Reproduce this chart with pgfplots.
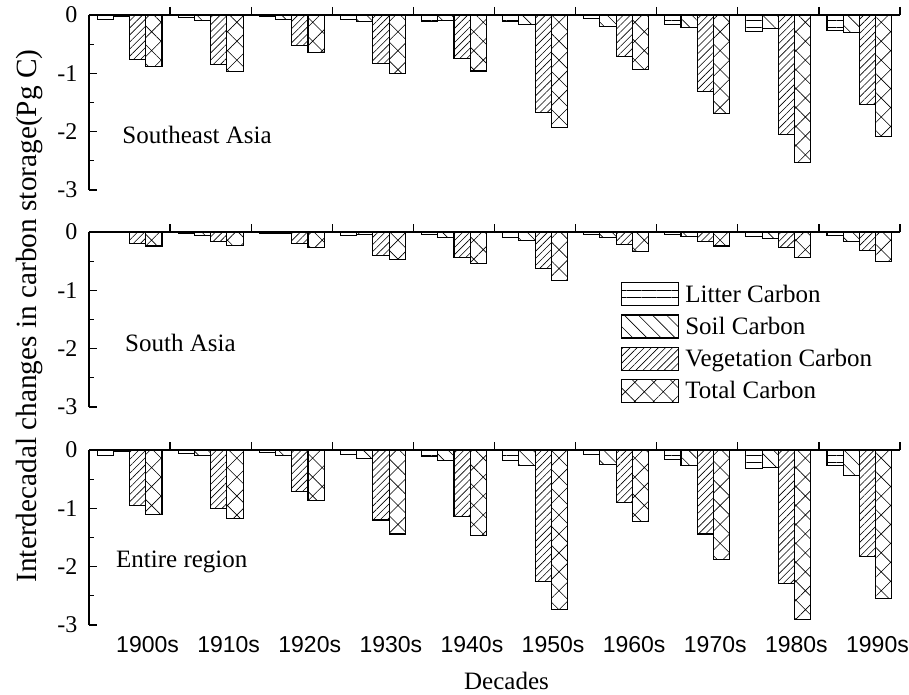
\documentclass[border=0pt]{standalone}
\usepackage{fontspec}
\setmainfont{Liberation Serif}
\newfontfamily\arialfont{Liberation Sans}
\usepackage{pgfplots}
\pgfplotsset{compat=1.18}
\usepackage{pgfplotstable}
\usetikzlibrary{patterns.meta}

% decade, Litter, Soil, Vegetation, Total  (Pg C)
\pgfplotstableread{
x L S V T
0 -0.07 -0.03 -0.76 -0.88
1 -0.05 -0.09 -0.85 -0.97
2 -0.03 -0.07 -0.53 -0.64
3 -0.08 -0.11 -0.83 -1.00
4 -0.11 -0.10 -0.75 -0.96
5 -0.11 -0.17 -1.67 -1.93
6 -0.06 -0.19 -0.71 -0.94
7 -0.17 -0.21 -1.31 -1.69
8 -0.29 -0.23 -2.05 -2.53
9 -0.27 -0.30 -1.54 -2.08
}\sea
\pgfplotstableread{
x L S V T
0 -0.01 -0.01 -0.19 -0.24
1 -0.03 -0.06 -0.17 -0.23
2 -0.02 -0.03 -0.20 -0.26
3 -0.06 -0.04 -0.40 -0.47
4 -0.05 -0.10 -0.43 -0.54
5 -0.10 -0.14 -0.62 -0.83
6 -0.04 -0.10 -0.22 -0.33
7 -0.05 -0.08 -0.16 -0.24
8 -0.07 -0.11 -0.27 -0.43
9 -0.06 -0.16 -0.31 -0.50
}\sa
\pgfplotstableread{
x L S V T
0 -0.09 -0.03 -0.95 -1.11
1 -0.06 -0.10 -1.01 -1.18
2 -0.05 -0.09 -0.71 -0.87
3 -0.07 -0.14 -1.20 -1.44
4 -0.11 -0.18 -1.14 -1.47
5 -0.18 -0.27 -2.26 -2.73
6 -0.07 -0.25 -0.90 -1.23
7 -0.17 -0.26 -1.44 -1.87
8 -0.31 -0.30 -2.29 -2.90
9 -0.27 -0.43 -1.82 -2.54
}\whole

\pgfplotsset{
  panel/.style={
    width=811pt, height=175pt, scale only axis,
    xmin=-0.5, xmax=9.5, ymin=-3, ymax=0,
    axis x line*=top, axis y line*=left,
    axis line style={line width=1.4pt, black},
    xtick={0.5,1.5,...,9.5}, xticklabels={},
    ytick={-3,-2,-1,0}, yticklabels={-3,-2,-1,0},
    minor ytick={-2.5,-1.5,-0.5},
    major tick length=8pt, minor tick length=5pt,
    tick style={line width=1.3pt, black},
    tick align=inside,
    yticklabel style={font=\fontsize{24}{24}\selectfont, xshift=-8pt},
    ybar, bar width=0.2,
    clip=false,
  },
  mybar/.style={draw=black, line width=1.1pt,
    legend image code/.code={\draw[##1] (0pt,-11.5pt) rectangle (57pt,11.5pt); \path (62pt,0pt);}},
  litter/.style={mybar, bar shift=-0.3, pattern={Lines[angle=0,distance=7.5pt,line width=0.6pt]}},
  soil/.style={mybar, bar shift=-0.1, pattern={Lines[angle=-45,distance=10pt,line width=0.6pt]}},
  veg/.style={mybar, bar shift=0.1, pattern={Lines[angle=45,distance=5pt,line width=0.6pt]}},
  tot/.style={mybar, bar shift=0.3, pattern={Hatch[angle=45,distance=13.4pt,line width=0.6pt]}},
}

\begin{document}
\begin{tikzpicture}
\useasboundingbox (0pt,0pt) rectangle (909pt,-695pt);

\begin{axis}[panel, at={(89pt,-15pt)}, anchor=north west]
\addplot[litter] table[x=x,y=L]{\sea};
\addplot[soil] table[x=x,y=S]{\sea};
\addplot[veg] table[x=x,y=V]{\sea};
\addplot[tot] table[x=x,y=T]{\sea};
\node[anchor=base west, inner sep=0pt, font=\fontsize{25}{25}\selectfont] at (axis cs:-0.09,-2.2) {Southeast Asia};
\end{axis}

\begin{axis}[panel, at={(89pt,-232pt)}, anchor=north west,
  legend style={at={(axis cs:6.06,-0.86)}, anchor=north west, draw=none, fill=none,
    inner sep=0pt, row sep=8pt, font=\fontsize{25}{25}\selectfont,
    nodes={inner ysep=1pt, inner xsep=1pt}},
  legend cell align=left]
\addplot[litter] table[x=x,y=L]{\sa};
\addplot[soil] table[x=x,y=S]{\sa};
\addplot[veg] table[x=x,y=V]{\sa};
\addplot[tot] table[x=x,y=T]{\sa};
\legend{Litter Carbon, Soil Carbon, Vegetation Carbon, Total Carbon}
\node[anchor=base west, inner sep=0pt, font=\fontsize{25}{25}\selectfont] at (axis cs:-0.056,-2.05) {South Asia};
\end{axis}

\begin{axis}[panel, at={(89pt,-450pt)}, anchor=north west]
\addplot[litter] table[x=x,y=L]{\whole};
\addplot[soil] table[x=x,y=S]{\whole};
\addplot[veg] table[x=x,y=V]{\whole};
\addplot[tot] table[x=x,y=T]{\whole};
\node[anchor=base west, inner sep=0pt, font=\fontsize{25}{25}\selectfont] at (axis cs:-0.167,-2.02) {Entire region};
\end{axis}

% tick labels and x label of the shared decade axis
\begin{axis}[at={(89pt,-450pt)}, anchor=north west,
  width=811pt, height=175pt, scale only axis,
  xmin=-0.5, xmax=9.5, ymin=-3, ymax=0,
  axis x line*=bottom, axis y line=none,
  x axis line style={draw=none},
  xtick={0,...,9}, major tick length=0pt,
  xticklabels={1900s,1910s,1920s,1930s,1940s,1950s,1960s,1970s,1980s,1990s},
  xticklabel style={font=\arialfont\fontsize{23}{23}\selectfont, xshift=18pt, yshift=-8pt},
  xlabel={Decades},
  xlabel style={font=\fontsize{25}{25}\selectfont, xshift=12pt, yshift=-12pt}]
\end{axis}

\node[rotate=90, inner sep=0pt, font=\fontsize{29.3}{29.3}\selectfont] at (29pt,-316pt)
  {Interdecadal changes in carbon storage(Pg C)};
\end{tikzpicture}
\end{document}
